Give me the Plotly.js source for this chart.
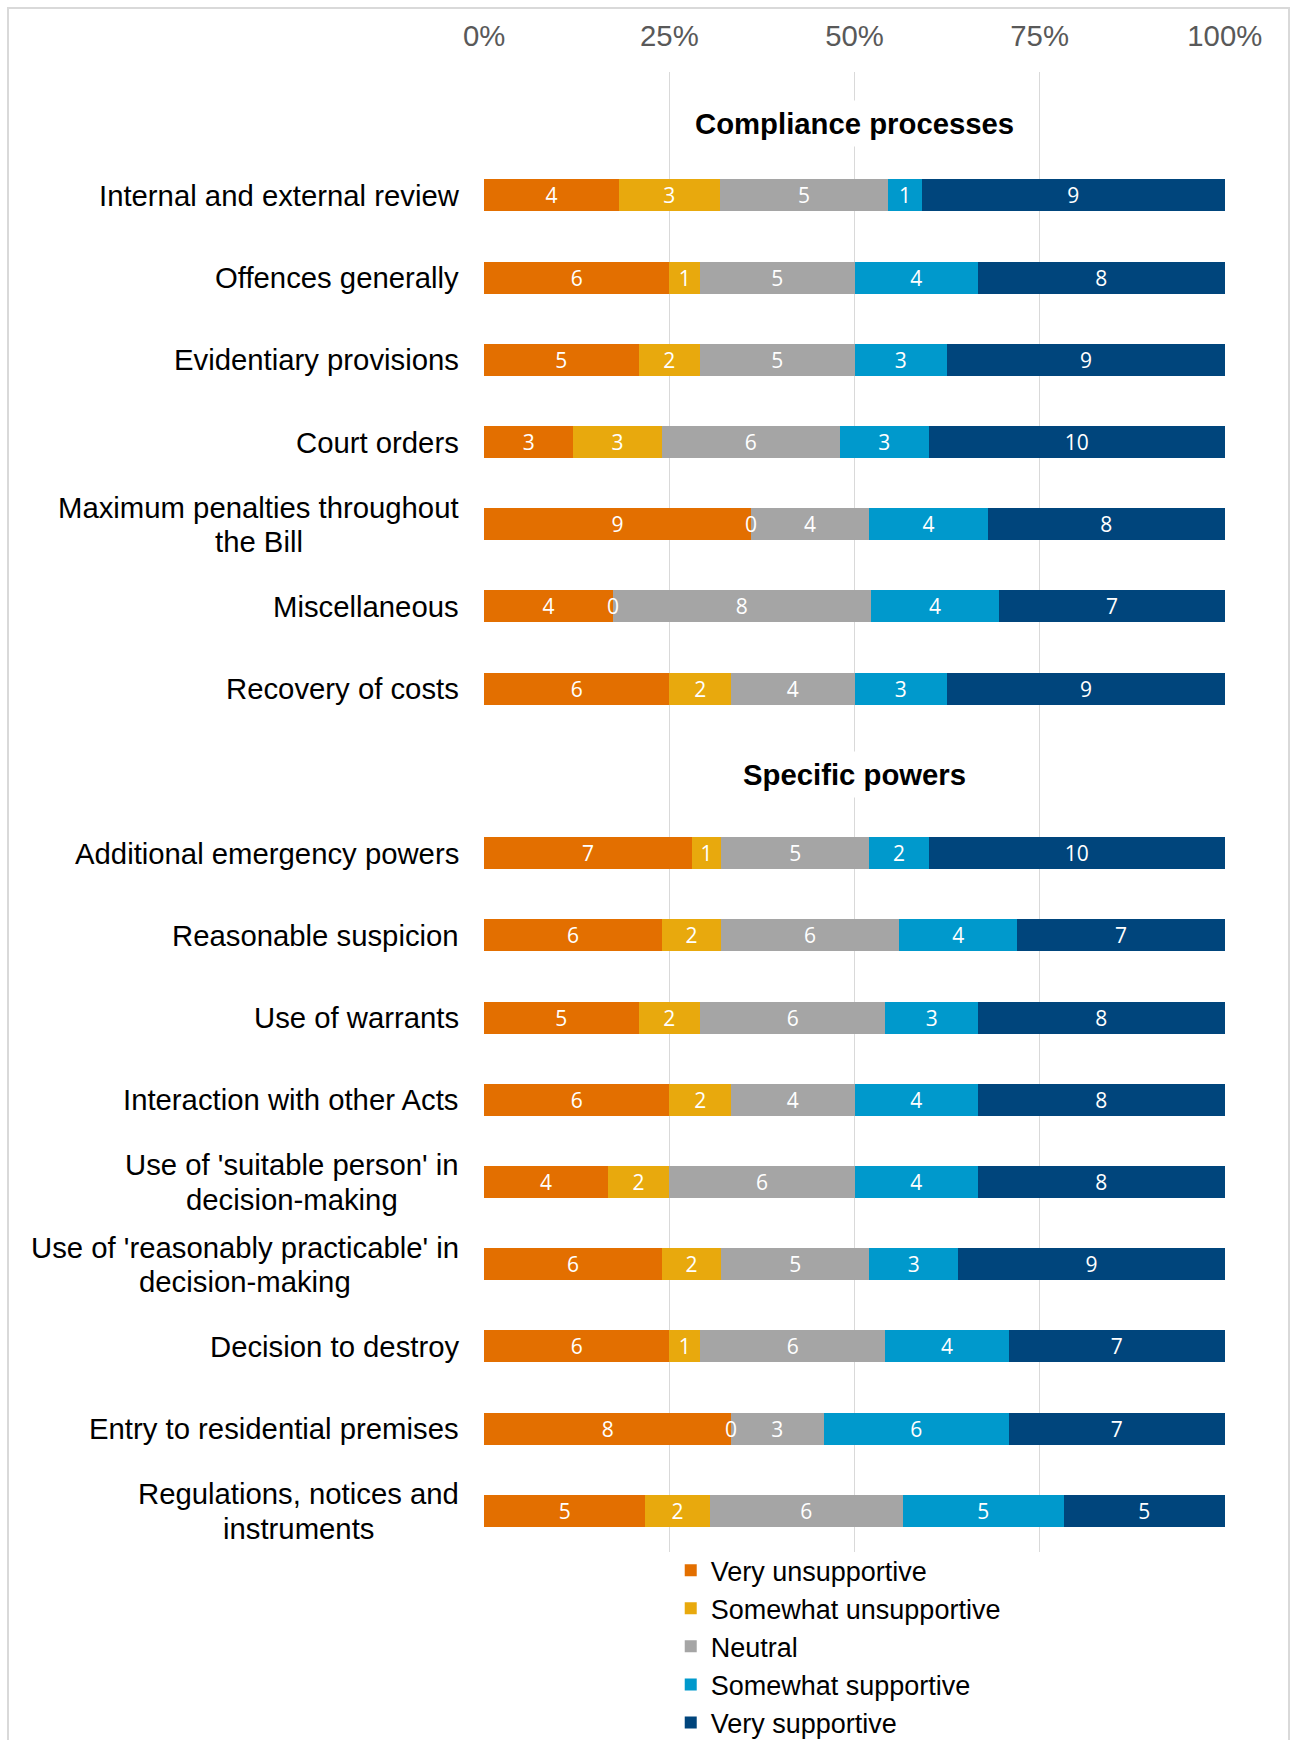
<!DOCTYPE html>
<html>
<head>
<meta charset="utf-8">
<script src="https://cdn.plot.ly/plotly-3.0.1.min.js"></script>
<style>
  html, body { margin: 0; padding: 0; background: #ffffff; }
  #wrap { position: relative; width: 1291px; height: 1740px; }
  #chart { position: absolute; left: 0; top: 0; width: 1291px; height: 1740px; }
  #frame { position: absolute; left: 7px; top: 7px; width: 1283px; height: 1740px;
           border: 2px solid #d9d9d9; box-sizing: border-box; pointer-events: none; }
</style>
</head>
<body>
<div id="wrap"><div id="chart"></div><div id="frame"></div></div>
<script>
// ---- Data ----
const categories = [
  "Internal and external review",
  "Offences generally",
  "Evidentiary provisions",
  "Court orders",
  "Maximum penalties throughout<br>the Bill",
  "Miscellaneous",
  "Recovery of costs",
  "Additional emergency powers",
  "Reasonable suspicion",
  "Use of warrants",
  "Interaction with other Acts",
  "Use of 'suitable person' in<br>decision-making",
  "Use of 'reasonably practicable' in<br>decision-making",
  "Decision to destroy",
  "Entry to residential premises",
  "Regulations, notices and<br>instruments"
];
const sectionTitles = ["Compliance processes", "Specific powers"];
const sectionStarts = [0, 7];   // index in categories where each section begins

const seriesNames = ["Very unsupportive", "Somewhat unsupportive", "Neutral", "Somewhat supportive", "Very supportive"];
const veryUnsupportive     = [4, 6, 5, 3, 9, 4, 6, 7, 6, 5, 6, 4, 6, 6, 8, 5];
const somewhatUnsupportive = [3, 1, 2, 3, 0, 0, 2, 1, 2, 2, 2, 2, 2, 1, 0, 2];
const neutral              = [5, 5, 5, 6, 4, 8, 4, 5, 6, 6, 4, 6, 5, 6, 3, 6];
const somewhatSupportive   = [1, 4, 3, 3, 4, 4, 3, 2, 4, 3, 4, 4, 3, 4, 6, 5];
const verySupportive       = [9, 8, 9, 10, 8, 7, 9, 10, 7, 8, 8, 8, 9, 7, 7, 5];
const tickValues = [0, 25, 50, 75, 100];

const seriesColors = ["#E36F00", "#E8A90D", "#A5A5A5", "#0099CC", "#00457C"];

// ---- Layout helpers (slot positions on a numeric category axis) ----
function slotOf(i) {
  let n = 0;
  sectionStarts.forEach(s => { if (s <= i) n++; });
  return i + n;
}
const rowSlots = categories.map((c, i) => slotOf(i));
const headerSlots = sectionStarts.map((s, k) => s + k);
const totalSlots = categories.length + sectionStarts.length;

const allSeries = [veryUnsupportive, somewhatUnsupportive, neutral, somewhatSupportive, verySupportive];

const barFont = { family: 'Open Sans, sans-serif', size: 21, color: '#ffffff' };
const traces = allSeries.map((vals, k) => ({
  type: 'bar',
  orientation: 'h',
  name: seriesNames[k],
  x: vals,
  y: rowSlots,
  text: vals.map(String),
  textposition: vals.map(v => v === 0 ? 'none' : 'inside'),
  textangle: 0,
  insidetextanchor: 'middle',
  constraintext: 'none',
  textfont: barFont,
  insidetextfont: barFont,
  marker: { color: seriesColors[k], line: { width: 0 } },
  hoverinfo: 'name+x'
}));

// ---- Category labels: centred lines, right-aligned block ----
const labelFontSize = 29.3;
const labelLineGap = 34.4;
const measureCtx = document.createElement('canvas').getContext('2d');
measureCtx.font = labelFontSize + 'px "Liberation Sans", Arial, sans-serif';

const annotations = [];
categories.forEach((c, i) => {
  const lines = c.split('<br>');
  const maxW = Math.max(...lines.map(l => measureCtx.measureText(l).width));
  lines.forEach((line, j) => {
    annotations.push({
      xref: 'paper', yref: 'y', x: 0, y: rowSlots[i],
      xanchor: 'center', yanchor: 'middle',
      xshift: -25 - maxW / 2,
      yshift: ((lines.length - 1) / 2 - j) * labelLineGap,
      text: line, showarrow: false, align: 'center', borderpad: 0,
      font: { family: 'Liberation Sans, Arial, sans-serif', size: labelFontSize, color: '#000000' }
    });
  });
});

// zero-count labels sit on the boundary between neighbouring segments (drawn above the bars)
categories.forEach((c, i) => {
  const total = allSeries.reduce((s, arr) => s + arr[i], 0);
  let cum = 0;
  allSeries.forEach((arr, k) => {
    if (arr[i] === 0) {
      annotations.push({
        xref: 'x', yref: 'y', x: 100 * cum / total, y: rowSlots[i],
        xanchor: 'center', yanchor: 'middle', text: '0', showarrow: false, borderpad: 0,
        font: barFont
      });
    }
    cum += arr[i];
  });
});

const headerShift = [-10, -4];
sectionTitles.forEach((t, k) => {
  annotations.push({
    xref: 'x', yref: 'y', x: 50, y: headerSlots[k],
    xanchor: 'center', yanchor: 'middle', yshift: headerShift[k],
    text: '<b>' + t + '</b>', showarrow: false,
    bgcolor: '#ffffff', borderpad: 6,
    font: { family: 'Liberation Sans, Arial, sans-serif', size: labelFontSize, color: '#000000' }
  });
});

const layout = {
  width: 1291, height: 1740,
  margin: { l: 484, r: 66, t: 72, b: 188, pad: 0, autoexpand: false },
  paper_bgcolor: '#ffffff', plot_bgcolor: '#ffffff',
  barmode: 'stack', barnorm: 'percent', bargap: 0.61,
  showlegend: true,
  legend: {
    orientation: 'v', traceorder: 'normal',
    x: 0.252, xanchor: 'left', y: 0.004, yanchor: 'top',
    font: { family: 'Liberation Sans, Arial, sans-serif', size: 27, color: '#000000' },
    bgcolor: 'rgba(0,0,0,0)', tracegroupgap: 0, itemclick: false
  },
  xaxis: {
    side: 'top', range: [-0.03, 100.03], tickvals: tickValues, ticktext: tickValues.map(v => v + '%'),
    showgrid: true, gridcolor: '#d9d9d9', gridwidth: 1.5, zeroline: false,
    showline: false, ticks: '', ticklabelstandoff: 19,
    tickfont: { family: 'Liberation Sans, Arial, sans-serif', size: labelFontSize, color: '#595959' },
    fixedrange: true
  },
  yaxis: {
    range: [totalSlots - 0.5, -0.5], showticklabels: false, showgrid: false,
    zeroline: false, showline: false, ticks: '', fixedrange: true
  },
  annotations: annotations
};

Plotly.newPlot('chart', traces, layout, { displayModeBar: false, staticPlot: true });
</script>
</body>
</html>
